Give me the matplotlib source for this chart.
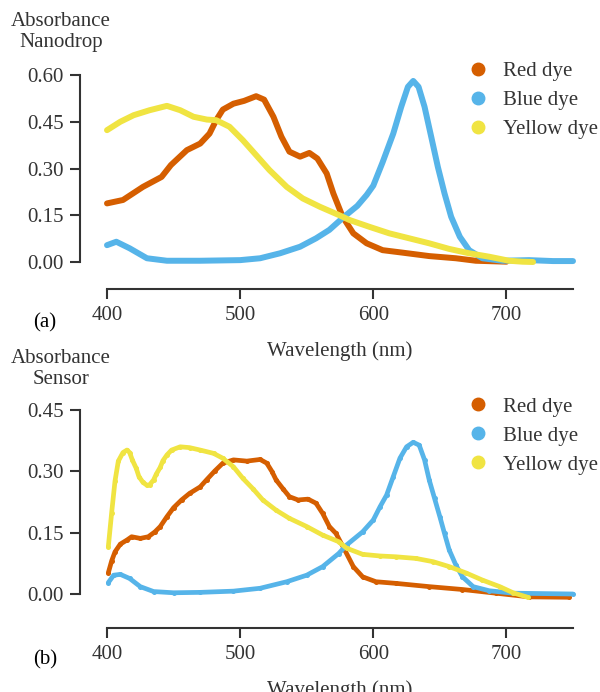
import matplotlib
matplotlib.use("Agg")
import matplotlib.pyplot as plt
from matplotlib.lines import Line2D

plt.rcParams["font.family"] = ["Liberation Serif", "DejaVu Serif"]

RED = "#D55E00"
BLUE = "#56B4E9"
YELLOW = "#F0E442"
INK = "#333333"

# ── Nanodrop spectra ─────────────────────────────────────────────────────────
nd_red_wl = [400, 412, 427, 441, 448, 460, 470, 477, 482, 487, 495, 503, 512,
             518, 525, 531, 537, 545, 552, 558, 565, 570, 577, 585, 595, 607,
             622, 642, 662, 677, 700]
nd_red = [0.188, 0.199, 0.241, 0.273, 0.311, 0.359, 0.380, 0.412, 0.455,
          0.489, 0.508, 0.517, 0.532, 0.521, 0.466, 0.402, 0.354, 0.338,
          0.350, 0.332, 0.284, 0.220, 0.145, 0.092, 0.060, 0.038, 0.030,
          0.019, 0.012, 0.004, 0.001]

nd_blue_wl = [400, 407, 417, 430, 445, 470, 500, 515, 530, 545, 557, 567, 578,
              588, 595, 600, 607, 615, 621, 626, 630, 634, 638.5, 643.5,
              648.5, 653.5, 658.5, 665, 672, 682, 697, 717, 735, 750]
nd_blue = [0.054, 0.065, 0.044, 0.012, 0.004, 0.004, 0.006, 0.012, 0.028,
           0.049, 0.076, 0.103, 0.145, 0.180, 0.215, 0.245, 0.320, 0.412,
           0.498, 0.562, 0.581, 0.562, 0.498, 0.402, 0.305, 0.220, 0.145,
           0.081, 0.038, 0.012, 0.004, 0.006, 0.003, 0.003]

nd_yellow_wl = [400, 410, 420, 432, 445, 455, 465, 475, 482, 492, 502, 512,
                522, 535, 547, 560, 574, 582, 597, 612, 627, 642, 657, 672,
                687, 702, 712, 720]
nd_yellow = [0.423, 0.450, 0.471, 0.487, 0.501, 0.487, 0.466, 0.457, 0.455,
             0.434, 0.391, 0.343, 0.295, 0.241, 0.204, 0.177, 0.151, 0.135,
             0.113, 0.092, 0.076, 0.060, 0.042, 0.028, 0.017, 0.004, 0.001,
             0.0]

# ── Sensor spectra ───────────────────────────────────────────────────────────
se_red_wl = [401, 403.5, 406, 410, 415, 418.5, 425, 431, 436, 440, 445, 450,
             456, 462, 470, 475, 481, 487, 495, 505, 515, 520, 524, 527, 532,
             537, 543.5, 551, 557, 562, 567, 572, 578.5, 585, 592, 602, 617,
             642, 667, 692, 717, 747]
se_red = [0.052, 0.081, 0.103, 0.122, 0.132, 0.140, 0.136, 0.140, 0.152,
          0.165, 0.189, 0.211, 0.230, 0.246, 0.262, 0.280, 0.301, 0.320,
          0.328, 0.325, 0.329, 0.320, 0.299, 0.279, 0.258, 0.238, 0.230,
          0.232, 0.222, 0.197, 0.165, 0.148, 0.108, 0.067, 0.042, 0.030,
          0.026, 0.018, 0.011, 0.002, -0.007, -0.008]

se_blue_wl = [401, 405, 410, 417, 425, 435, 450, 470, 495, 515, 535, 550, 562,
              574, 580, 592, 600, 605, 610, 615, 620, 625, 630, 634.5, 638.5,
              642, 646, 650, 653.5, 657, 662, 667, 675, 687, 705, 750]
se_blue = [0.028, 0.046, 0.048, 0.038, 0.018, 0.006, 0.003, 0.004, 0.007,
           0.014, 0.030, 0.046, 0.067, 0.099, 0.120, 0.152, 0.181, 0.213,
           0.242, 0.287, 0.332, 0.360, 0.371, 0.364, 0.328, 0.279, 0.234,
           0.189, 0.148, 0.108, 0.071, 0.042, 0.018, 0.008, 0.002, 0.0]

se_yellow_wl = [401, 403.5, 406, 408.5, 412, 415, 417, 419, 422, 424, 427, 430,
                432, 435, 437, 440, 442, 445, 448.5, 455, 462, 470, 480, 487,
                495, 502, 510, 517, 527, 537, 550, 562, 574, 580, 592, 605,
                617, 632, 645, 657, 670, 682, 695, 705, 716]
se_yellow = [0.116, 0.199, 0.276, 0.325, 0.346, 0.352, 0.346, 0.328, 0.307,
             0.287, 0.273, 0.266, 0.267, 0.279, 0.293, 0.310, 0.326, 0.340,
             0.352, 0.360, 0.358, 0.352, 0.344, 0.332, 0.311, 0.283, 0.256,
             0.230, 0.205, 0.185, 0.165, 0.144, 0.128, 0.112, 0.097, 0.093,
             0.091, 0.087, 0.079, 0.067, 0.051, 0.034, 0.018, 0.003, -0.008]

labels = ["Red dye", "Blue dye", "Yellow dye"]
x_ticks = [400, 500, 600, 700]
nd_ticks = [0.0, 0.15, 0.30, 0.45, 0.60]
se_ticks = [0.0, 0.15, 0.30, 0.45]

W, H = 600, 692
fig = plt.figure(figsize=(W / 100, H / 100), dpi=100)


def px_axes(left, right, top, bottom):
    return fig.add_axes([left / W, 1 - bottom / H, (right - left) / W,
                         (bottom - top) / H])


def style(ax, yticks, x_off, y_off):
    ax.set_xlim(400, 750)
    ax.set_ylim(yticks[0], yticks[-1])
    for s in ["top", "right"]:
        ax.spines[s].set_visible(False)
    for s in ["left", "bottom"]:
        ax.spines[s].set_linewidth(1.5)
        ax.spines[s].set_color(INK)
    ax.spines["left"].set_position(("outward", x_off))
    ax.spines["bottom"].set_position(("outward", y_off))
    ax.set_xticks(x_ticks)
    ax.set_yticks(yticks)
    ax.set_yticklabels([f"{t:.2f}" for t in yticks])
    ax.tick_params(direction="out", length=7, width=1.5, color=INK,
                   labelsize=15, labelcolor=INK, pad=5)
    ax.set_xlabel("Wavelength (nm)", fontsize=15, color=INK, labelpad=12)
    handles = [Line2D([], [], marker="o", ls="none", ms=9, color=c)
               for c in (RED, BLUE, YELLOW)]
    ax.legend(handles, labels, loc="upper left", bbox_to_anchor=(0.774, 1.07),
              frameon=False, fontsize=15, handlelength=1.0,
              handletextpad=0.7, labelspacing=0.45, borderpad=0,
              borderaxespad=0, labelcolor=INK)


# (a) Nanodrop
ax1 = px_axes(107, 573, 75, 262)
for wl, v, c in [(nd_red_wl, nd_red, RED), (nd_blue_wl, nd_blue, BLUE),
                 (nd_yellow_wl, nd_yellow, YELLOW)]:
    ax1.plot(wl, v, color=c, lw=4.3, solid_capstyle="round",
             solid_joinstyle="round", clip_on=False)
style(ax1, nd_ticks, 19.4, 19.4)

# (b) Sensor
ax2 = px_axes(107, 573, 410, 594)
for wl, v, c in [(se_red_wl, se_red, RED), (se_blue_wl, se_blue, BLUE),
                 (se_yellow_wl, se_yellow, YELLOW)]:
    ax2.plot(wl, v, color=c, lw=3.4, marker="o", ms=3.6, mew=0,
             solid_capstyle="round", solid_joinstyle="round", clip_on=False)
style(ax2, se_ticks, 19.4, 24.5)

fig.text(61 / W, 1 - 32 / H, "Absorbance\nNanodrop", ha="center", va="center",
         fontsize=15, color=INK, linespacing=1.1)
fig.text(61 / W, 1 - 369 / H, "Absorbance\nSensor", ha="center", va="center",
         fontsize=15, color=INK, linespacing=1.1)
fig.text(45 / W, 1 - 323 / H, "(a)", ha="center", va="center", fontsize=15,
         color="black")
fig.text(45 / W, 1 - 660 / H, "(b)", ha="center", va="center", fontsize=15,
         color="black")

fig.savefig("out.png", dpi=100, facecolor="white")
